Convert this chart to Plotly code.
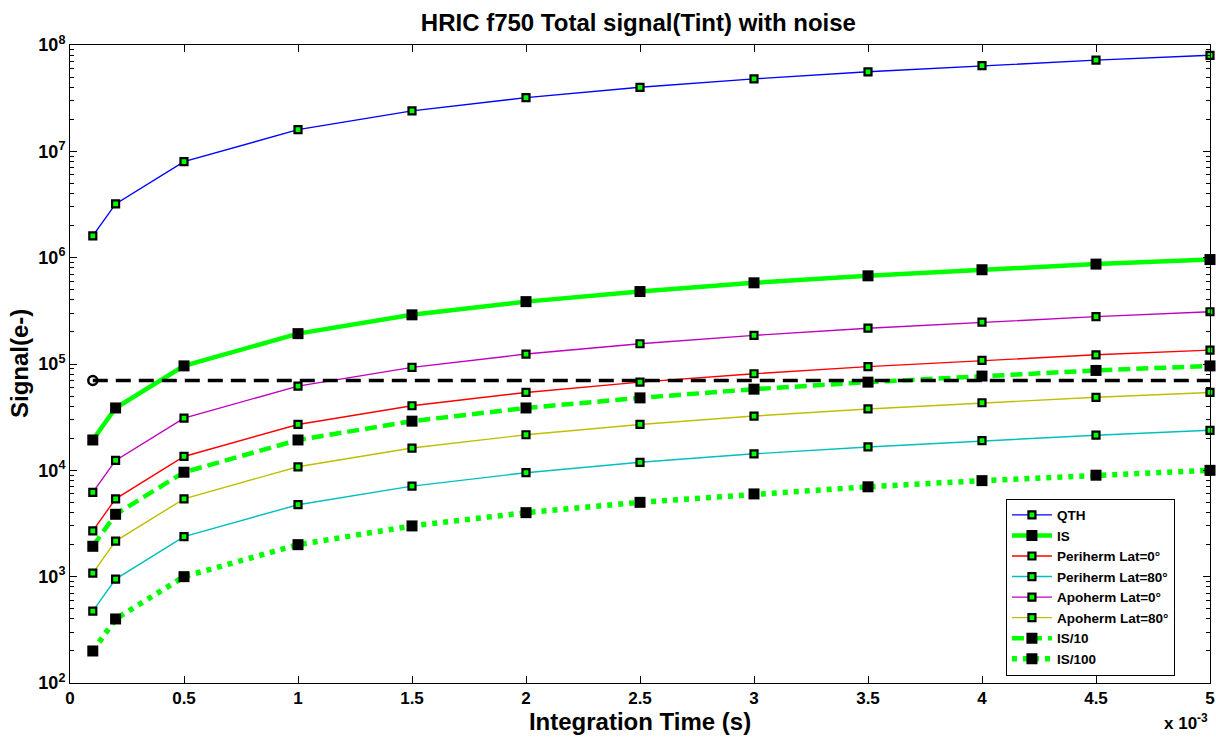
import plotly.graph_objects as go

t_ms = [0.1, 0.2, 0.5, 1.0, 1.5, 2.0, 2.5, 3.0, 3.5, 4.0, 4.5, 5.0]
qth = [1.6e6, 3.2e6, 8.0e6, 1.6e7, 2.4e7, 3.2e7, 4.0e7, 4.8e7, 5.6e7, 6.4e7, 7.2e7, 8.0e7]
is_sig = [1.93e4, 3.86e4, 9.6e4, 1.93e5, 2.9e5, 3.86e5, 4.8e5, 5.8e5, 6.75e5, 7.7e5, 8.7e5, 9.6e5]
peri0 = [2.7e3, 5.4e3, 1.35e4, 2.7e4, 4.05e4, 5.4e4, 6.75e4, 8.1e4, 9.45e4, 1.08e5, 1.22e5, 1.35e5]
peri80 = [4.75e2, 9.5e2, 2.38e3, 4.75e3, 7.1e3, 9.5e3, 1.19e4, 1.43e4, 1.66e4, 1.9e4, 2.14e4, 2.38e4]
apo0 = [6.2e3, 1.24e4, 3.1e4, 6.2e4, 9.3e4, 1.24e5, 1.55e5, 1.86e5, 2.17e5, 2.48e5, 2.79e5, 3.1e5]
apo80 = [1.08e3, 2.16e3, 5.4e3, 1.08e4, 1.62e4, 2.16e4, 2.7e4, 3.24e4, 3.78e4, 4.32e4, 4.86e4, 5.4e4]
is10 = [1.93e3, 3.86e3, 9.6e3, 1.93e4, 2.9e4, 3.86e4, 4.8e4, 5.8e4, 6.75e4, 7.7e4, 8.7e4, 9.6e4]
is100 = [2.0e2, 4.0e2, 1.0e3, 2.0e3, 3.0e3, 4.0e3, 5.0e3, 6.0e3, 7.0e3, 8.0e3, 9.0e3, 1.0e4]
noise_level = 7.0e4
x_ticks = [0, 0.5, 1, 1.5, 2, 2.5, 3, 3.5, 4, 4.5, 5]
x_ticktext = ["0", "0.5", "1", "1.5", "2", "2.5", "3", "3.5", "4", "4.5", "5"]
y_exps = [2, 3, 4, 5, 6, 7, 8]

FONT = "Liberation Sans, Arial, sans-serif"

small_marker = dict(symbol="square", size=7, color="#00ff00", line=dict(color="black", width=2.2))
big_marker = dict(symbol="square", size=11, color="black", line=dict(color="black", width=0))

fig = go.Figure()
series = [
    ("QTH", qth, dict(color="#0000ff", width=1.4), small_marker),
    ("IS", is_sig, dict(color="#00ff00", width=4.5), big_marker),
    ("Periherm Lat=0°", peri0, dict(color="#ff0000", width=1.4), small_marker),
    ("Periherm Lat=80°", peri80, dict(color="#00bfbf", width=1.4), small_marker),
    ("Apoherm Lat=0°", apo0, dict(color="#bf00bf", width=1.4), small_marker),
    ("Apoherm Lat=80°", apo80, dict(color="#bfbf00", width=1.4), small_marker),
    ("IS/10", is10, dict(color="#00ff00", width=4.5, dash="12px,6px"), big_marker),
    ("IS/100", is100, dict(color="#00ff00", width=5.5, dash="5px,6px"), big_marker),
]
for name, ys, line, marker in series:
    fig.add_trace(go.Scatter(x=t_ms, y=ys, name=name, mode="lines+markers", line=line, marker=marker,
                             cliponaxis=False))

fig.add_trace(go.Scatter(x=[t_ms[0], t_ms[-1]], y=[noise_level, noise_level], mode="lines",
                         line=dict(color="black", width=3.5, dash="15px,8px"), showlegend=False))
fig.add_trace(go.Scatter(x=[t_ms[0]], y=[noise_level], mode="markers", showlegend=False,
                         marker=dict(symbol="circle-open", size=9, color="black", line=dict(width=2.5))))

minor_vals = [m * 10 ** e for e in range(2, 8) for m in range(2, 10)]

fig.update_layout(
    width=1216, height=737,
    margin=dict(l=70, r=6, t=45, b=54, autoexpand=False),
    paper_bgcolor="white", plot_bgcolor="white",
    title=dict(text="HRIC f750 Total signal(Tint) with noise", x=0.525, xanchor="center",
               y=0.970, yanchor="middle", font=dict(family=FONT, size=24, color="black", weight="bold")),
    font=dict(family=FONT, color="black"),
    showlegend=True,
    legend=dict(x=0.821, y=0.289, xanchor="left", yanchor="top", bordercolor="black", borderwidth=1,
                bgcolor="white", font=dict(family=FONT, size=13.5, color="black", weight="bold"),
                tracegroupgap=0, itemwidth=40),
)
fig.update_xaxes(
    range=[0, 5], tickvals=x_ticks, ticktext=x_ticktext, automargin=False,
    ticks="inside", ticklen=7, tickcolor="black", showline=True, linecolor="black", linewidth=1,
    mirror="ticks", showgrid=False, zeroline=False,
    tickfont=dict(family=FONT, size=17, color="black", weight="bold"),
    title=dict(text="Integration Time (s)", font=dict(family=FONT, size=24, color="black", weight="bold"), standoff=0),
)
fig.update_yaxes(
    type="log", range=[2, 8], tickvals=[10 ** e for e in y_exps], automargin=False,
    ticktext=[f"10<sup>{e}</sup>" for e in y_exps],
    ticks="inside", ticklen=7, tickcolor="black", showline=True, linecolor="black", linewidth=1,
    mirror="ticks", showgrid=False, zeroline=False,
    tickfont=dict(family=FONT, size=18, color="black", weight="bold"),
    minor=dict(tickmode="array", tickvals=minor_vals, ticks="inside", ticklen=4, tickcolor="black", showgrid=False),
)
fig.add_annotation(text="Signal(e-)", xref="paper", yref="paper", x=-0.0447, y=0.5, textangle=-90,
                   xanchor="center", yanchor="middle", showarrow=False,
                   font=dict(family=FONT, size=24, color="black", weight="bold"))
fig.add_annotation(text="x 10<sup>-3</sup>", xref="paper", yref="paper", x=1.0, y=-0.081,
                   xanchor="right", yanchor="bottom", showarrow=False,
                   font=dict(family=FONT, size=17, color="black", weight="bold"))

fig.write_html("out.html", config={"displayModeBar": False},
               post_script="document.body.style.margin='0px';document.body.style.overflow='hidden';")
